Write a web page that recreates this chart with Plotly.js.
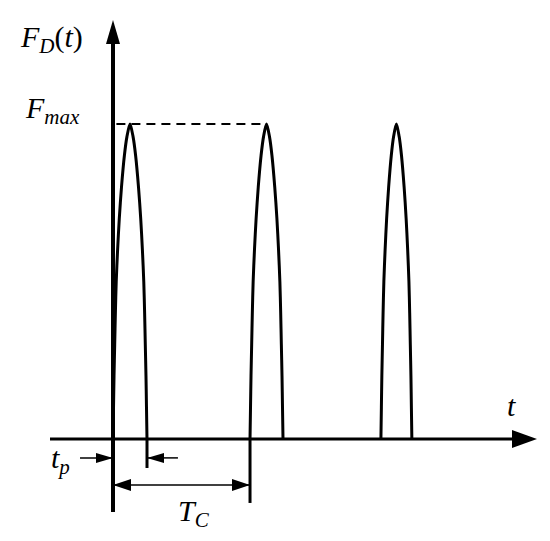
<!DOCTYPE html>
<html>
<head>
<meta charset="utf-8">
<script src="https://cdn.plot.ly/plotly-3.0.1.min.js"></script>
<style>
  html, body { margin: 0; padding: 0; background: #fff; }
  #chart { width: 550px; height: 541px; }
</style>
</head>
<body>
<div id="chart"></div>
<script>
// time in units of t_p, force in units of F_max
var pulseStart = [0, 4.03, 7.88];
var pulseWidth = [1.0, 0.97, 0.91];
var period = 4.03;        // T_C
var pulseDur = 1.0;       // t_p
var fMax = 1.0;

// shape of one pulse (fraction of width, fraction of F_max)
var profileU = [0, 0.015, 0.03, 0.05, 0.07, 0.095, 0.135, 0.185, 0.25, 0.335, 0.41, 0.5,
                0.59, 0.665, 0.75, 0.815, 0.865, 0.905, 0.93, 0.95, 0.97, 0.985, 1];
var profileF = [0, 0.1, 0.2, 0.3, 0.4, 0.5, 0.6, 0.7, 0.8, 0.9, 0.96, 1,
                0.96, 0.9, 0.8, 0.7, 0.6, 0.5, 0.4, 0.3, 0.2, 0.1, 0];

var black = "#000";

// Define Data
var data = pulseStart.map(function (s, i) {
  return {
    x: profileU.map(function (u) { return s + u * pulseWidth[i]; }),
    y: profileF.map(function (f) { return f * fMax; }),
    type: "scatter",
    mode: "lines",
    line: { color: black, width: 3, shape: "spline", smoothing: 0.8 },
    hoverinfo: "skip"
  };
});

function line(x0, y0, x1, y1, w, dash) {
  return { type: "line", xref: "x", yref: "y", x0: x0, y0: y0, x1: x1, y1: y1,
           line: { color: black, width: w, dash: dash || "solid" } };
}

// triangle head in pixels, tip at (x, y); dir = "r", "l", "u"
function head(x, y, dir, len, half) {
  var p;
  if (dir === "r") p = "M0,0L" + (-len) + "," + half + "L" + (-len) + "," + (-half) + "Z";
  else if (dir === "l") p = "M0,0L" + len + "," + half + "L" + len + "," + (-half) + "Z";
  else p = "M0,0L" + (-half) + "," + (-len) + "L" + half + "," + (-len) + "Z";
  return { type: "path", xref: "x", yref: "y", xsizemode: "pixel", ysizemode: "pixel",
           xanchor: x, yanchor: y, path: p, fillcolor: black, line: { width: 0 } };
}

var yTip = 1.33, xTip = 12.47;
var tpRow = -0.06, tcRow = -0.146;
var peak2 = pulseStart[1] + 0.5 * pulseWidth[1];

var shapes = [
  // axes
  line(0, -0.232, 0, yTip - 0.07, 4),
  head(0, yTip, "u", 24, 7),
  line(-1.853, 0, xTip - 0.7, 0, 3),
  head(xTip, 0, "r", 25, 9),
  // F_max level
  line(0.1, fMax, peak2, fMax, 2, "9px,6px"),
  // extension lines
  line(pulseDur, 0, pulseDur, -0.092, 3),
  line(period, 0, period, -0.203, 3),
  // t_p dimension
  line(-0.97, tpRow, 0, tpRow, 1.5),
  head(0, tpRow, "r", 17, 5),
  line(pulseDur, tpRow, 1.91, tpRow, 1.5),
  head(pulseDur, tpRow, "l", 17, 5),
  // T_C dimension
  line(0, tcRow, period, tcRow, 1.5),
  head(0, tcRow, "l", 18, 6),
  head(period, tcRow, "r", 18, 6)
];

var font = { family: "Liberation Serif, Times New Roman, serif", size: 30, color: black };

function label(text, x, y) {
  return { text: text, xref: "paper", yref: "paper", x: x / 550, y: 1 - y / 541,
           xanchor: "center", yanchor: "middle", showarrow: false, font: font };
}

// Define Layout
var layout = {
  width: 550,
  height: 541,
  margin: { l: 0, r: 0, t: 0, b: 0 },
  paper_bgcolor: "#fff",
  plot_bgcolor: "#fff",
  showlegend: false,
  xaxis: { visible: false, range: [-3.3235, 12.853], fixedrange: true },
  yaxis: { visible: false, range: [-0.3238, 1.3937], fixedrange: true },
  shapes: shapes,
  annotations: [
    label("<i>F<sub>D</sub></i>(<i>t</i>)", 51, 39),
    label("<i>F<sub>max</sub></i>", 52, 110),
    label("<i>t</i>", 511, 405),
    label("<i>t<sub>p</sub></i>", 60, 460),
    label("<i>T<sub>C</sub></i>", 194, 513)
  ]
};

Plotly.newPlot("chart", data, layout, { staticPlot: true });
</script>
</body>
</html>
